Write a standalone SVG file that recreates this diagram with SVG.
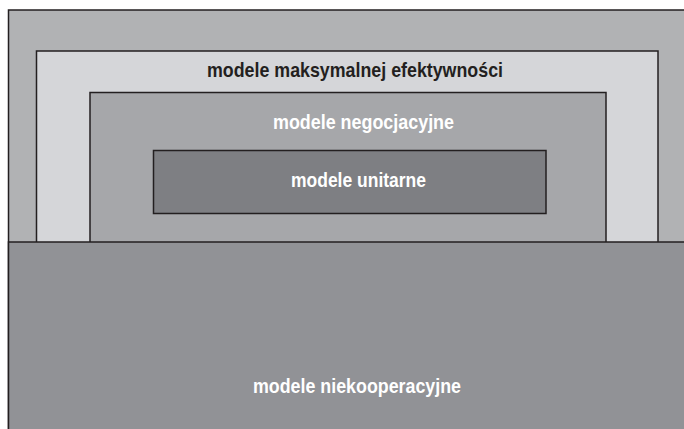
<svg xmlns="http://www.w3.org/2000/svg" width="684" height="429" viewBox="0 0 684 429">
<style>
.b{stroke:#231f20;stroke-width:1.5}
text{font-family:"Liberation Sans",Arial,sans-serif;font-weight:bold;font-size:21px}
.w{fill:#ffffff}
.k{fill:#231f20}
</style>
<rect width="684" height="429" fill="#ffffff"/>
<g id="outer">
<rect class="b" x="8.5" y="10" width="680" height="430" fill="#b1b2b4"/>
</g>
<g id="maks">
<rect class="b" x="36.5" y="51" width="621.5" height="200" fill="#d5d6d9"/>
<text class="k" x="207" y="77" textLength="296" lengthAdjust="spacingAndGlyphs">modele maksymalnej efektywności</text>
</g>
<g id="negocjacyjne">
<rect class="b" x="90" y="92.5" width="516" height="160" fill="#a6a7aa"/>
<text class="w" x="273" y="129" textLength="181" lengthAdjust="spacingAndGlyphs">modele negocjacyjne</text>
</g>
<g id="unitarne">
<rect class="b" x="153.5" y="150.5" width="392.5" height="63" fill="#7e7f83"/>
<text class="w" x="291" y="187" textLength="135" lengthAdjust="spacingAndGlyphs">modele unitarne</text>
</g>
<g id="niekooperacyjne">
<rect class="b" x="8.5" y="242" width="680" height="200" fill="#919296"/>
<text class="w" x="253" y="393" textLength="208" lengthAdjust="spacingAndGlyphs">modele niekooperacyjne</text>
</g>
<g id="connectors"></g>
</svg>
